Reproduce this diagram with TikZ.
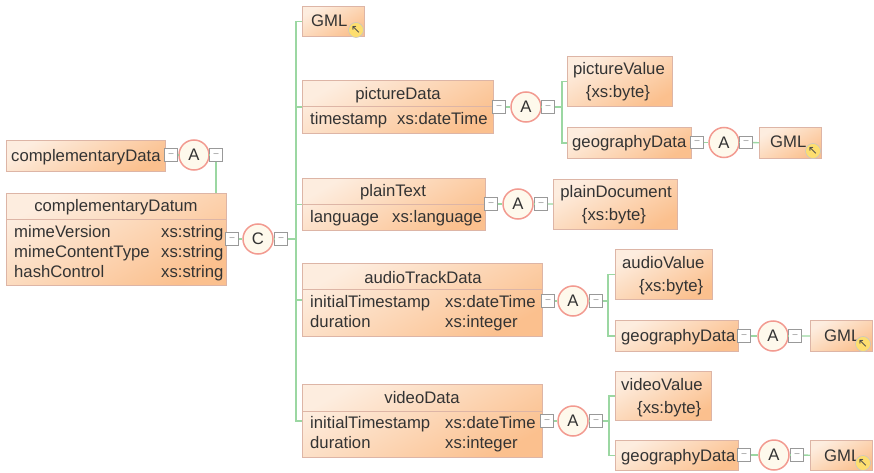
\documentclass[tikz,border=0pt]{standalone}
\usepackage{fontspec}
\setmainfont{Liberation Sans}
\newfontfamily\symbolfont{DejaVu Sans}
\usetikzlibrary{positioning}
\definecolor{boxline}{HTML}{DDB5A6}
\definecolor{boxpale}{HTML}{FDEDDF}
\definecolor{boxdeep}{HTML}{FBC08E}
\definecolor{linkgreen}{HTML}{9BD7A2}
\definecolor{ringred}{HTML}{F29A90}
\definecolor{ringfill}{HTML}{FEF9EC}
\definecolor{inkgrey}{HTML}{333333}
\tikzset{
    xnode/.style={draw=boxline, line width=1.2pt, top color=boxpale, bottom color=boxdeep, shading angle=30, anchor=north west, inner sep=0pt},
    xtext/.style={text=inkgrey, font=\fontsize{16.7}{23}\selectfont, inner sep=0pt, anchor=base west},
    xtitle/.style={xtext, anchor=base},
    xsplit/.style={draw=boxline, line width=1pt},
    xminus/.style={draw=gray!80, line width=1.1pt, fill=white, minimum size=12.5pt, inner sep=0pt, text=gray, font=\fontsize{9}{9}\selectfont},
    xcircle/.style={circle, draw=ringred, line width=1.5pt, fill=ringfill, minimum size=30pt, inner sep=0pt, text=inkgrey, font=\fontsize{16.7}{16.7}\selectfont},
    xbadge/.style={circle, draw=gray!45, line width=.6pt, fill=yellow!60!orange!55, minimum size=15pt, inner sep=0pt, text=gray!60!black, font=\symbolfont\fontsize{12}{12}\selectfont},
    xlink/.style={draw=linkgreen, line width=1.3pt},
}
\begin{document}
\begin{tikzpicture}[x=1pt, y=-1pt]
    \useasboundingbox (0,0) rectangle (874,473);

    % root
    \node[xnode, minimum width=159pt, minimum height=31pt] (complementaryData) at (6,140) {};
    \node[xtext] (complementaryDataText) at (11,161) {complementaryData};
    \node[xminus] (m1) at (171,155) {--};
    \node[xcircle] (a1) at (194,155) {A};
    \node[xminus] (m2) at (216,155) {--};

    \node[xnode, minimum width=220pt, minimum height=92pt] (complementaryDatum) at (6,193) {};
    \draw[xsplit] (complementaryDatum.west |- 0,219) -- (complementaryDatum.east |- 0,219);
    \node[xtitle] (datumTitle) at (116,211) {complementaryDatum};
    \node[xtext] (mimeVersion) at (14,237) {mimeVersion};
    \node[xtext] (mimeVersionType) at (161,237) {xs:string};
    \node[xtext] (mimeContentType) at (14,257) {mimeContentType};
    \node[xtext] (mimeContentTypeType) at (161,257) {xs:string};
    \node[xtext] (hashControl) at (14,277) {hashControl};
    \node[xtext] (hashControlType) at (161,277) {xs:string};
    \node[xminus] (m3) at (232,239) {--};
    \node[xcircle] (c1) at (258,239) {C};
    \node[xminus] (m4) at (281,239) {--};
    \coordinate (trunkRoot) at (296,239);

    % GML on top
    \node[xnode, minimum width=62pt, minimum height=30pt] (gmlTop) at (302,6) {};
    \node[xtext] (gmlTopText) at (311,27) {GML};
    \node[xbadge] (gmlTopBadge) at (356,30) {↖};

    % pictureData
    \node[xnode, minimum width=191pt, minimum height=53pt] (pictureData) at (302,80) {};
    \draw[xsplit] (pictureData.west |- 0,107) -- (pictureData.east |- 0,107);
    \node[xtitle] (pictureDataTitle) at (398,100) {pictureData};
    \node[xtext] (timestamp) at (310,125) {timestamp};
    \node[xtext] (timestampType) at (397,125) {xs:dateTime};
    \node[xminus] (m5) at (499,107) {--};
    \node[xcircle] (a2) at (526,107) {A};
    \node[xminus] (m6) at (548,107) {--};
    \coordinate (trunkPicture) at (562,107);
    \node[xnode, minimum width=105pt, minimum height=50pt] (pictureValue) at (567,56) {};
    \node[xtitle] (pictureValueText) at (619,75) {pictureValue};
    \node[xtitle] (pictureValueType) at (618,98) {\{xs:byte\}};
    \node[xnode, minimum width=124pt, minimum height=31pt] (geoPicture) at (567,127) {};
    \node[xtext] (geoPictureText) at (572,148) {geographyData};
    \node[xminus] (m7) at (697,142.5) {--};
    \node[xcircle] (a3) at (724,142.5) {A};
    \node[xminus] (m8) at (746,142.5) {--};
    \node[xnode, minimum width=62pt, minimum height=31pt] (gmlPicture) at (759,127) {};
    \node[xtext] (gmlPictureText) at (770,148) {GML};
    \node[xbadge] (gmlPictureBadge) at (813,151) {↖};

    % plainText
    \node[xnode, minimum width=183pt, minimum height=52pt] (plainText) at (302,178) {};
    \draw[xsplit] (plainText.west |- 0,204) -- (plainText.east |- 0,204);
    \node[xtitle] (plainTextTitle) at (393,196) {plainText};
    \node[xtext] (language) at (310,222) {language};
    \node[xtext] (languageType) at (392,222) {xs:language};
    \node[xminus] (m9) at (491,204) {--};
    \node[xcircle] (a4) at (518,204) {A};
    \node[xminus] (m10) at (541,204) {--};
    \node[xnode, minimum width=124pt, minimum height=50pt] (plainDocument) at (553,179) {};
    \node[xtitle] (plainDocumentText) at (616,197) {plainDocument};
    \node[xtitle] (plainDocumentType) at (614,220) {\{xs:byte\}};

    % audioTrackData
    \node[xnode, minimum width=240pt, minimum height=73pt] (audioTrackData) at (302,263) {};
    \draw[xsplit] (audioTrackData.west |- 0,289) -- (audioTrackData.east |- 0,289);
    \node[xtitle] (audioTrackDataTitle) at (423,283) {audioTrackData};
    \node[xtext] (audioStamp) at (310,307) {initialTimestamp};
    \node[xtext] (audioStampType) at (445,307) {xs:dateTime};
    \node[xtext] (audioDuration) at (310,327) {duration};
    \node[xtext] (audioDurationType) at (445,327) {xs:integer};
    \node[xminus] (m11) at (548,301) {--};
    \node[xcircle] (a5) at (573,301) {A};
    \node[xminus] (m12) at (596,301) {--};
    \coordinate (trunkAudio) at (608,301);
    \node[xnode, minimum width=97pt, minimum height=50pt] (audioValue) at (615,249) {};
    \node[xtext] (audioValueText) at (622,268) {audioValue};
    \node[xtext] (audioValueType) at (639,291) {\{xs:byte\}};
    \node[xnode, minimum width=123pt, minimum height=31pt] (geoAudio) at (615,320) {};
    \node[xtext] (geoAudioText) at (621,341) {geographyData};
    \node[xminus] (m13) at (744,336) {--};
    \node[xcircle] (a6) at (773,336) {A};
    \node[xminus] (m14) at (795,336) {--};
    \node[xnode, minimum width=62pt, minimum height=31pt] (gmlAudio) at (810,320) {};
    \node[xtext] (gmlAudioText) at (824,341) {GML};
    \node[xbadge] (gmlAudioBadge) at (863,344) {↖};

    % videoData
    \node[xnode, minimum width=240pt, minimum height=73pt] (videoData) at (302,384) {};
    \draw[xsplit] (videoData.west |- 0,411) -- (videoData.east |- 0,411);
    \node[xtitle] (videoDataTitle) at (422,403) {videoData};
    \node[xtext] (videoStamp) at (310,428) {initialTimestamp};
    \node[xtext] (videoStampType) at (445,428) {xs:dateTime};
    \node[xtext] (videoDuration) at (310,448) {duration};
    \node[xtext] (videoDurationType) at (445,448) {xs:integer};
    \node[xminus] (m15) at (547,421) {--};
    \node[xcircle] (a7) at (573,421) {A};
    \node[xminus] (m16) at (596,421) {--};
    \coordinate (trunkVideo) at (609,421);
    \node[xnode, minimum width=96pt, minimum height=49pt] (videoValue) at (615,371) {};
    \node[xtext] (videoValueText) at (621,390) {videoValue};
    \node[xtext] (videoValueType) at (637,413) {\{xs:byte\}};
    \node[xnode, minimum width=123pt, minimum height=30pt] (geoVideo) at (615,440) {};
    \node[xtext] (geoVideoText) at (621,461) {geographyData};
    \node[xminus] (m17) at (744,455) {--};
    \node[xcircle] (a8) at (774,455) {A};
    \node[xminus] (m18) at (797,455) {--};
    \node[xnode, minimum width=62pt, minimum height=30pt] (gmlVideo) at (810,440) {};
    \node[xtext] (gmlVideoText) at (824,461) {GML};
    \node[xbadge] (gmlVideoBadge) at (863,463) {↖};

    % links
    \draw[xlink] (m1) -- (a1);
    \draw[xlink] (a1) -- (m2);
    \draw[xlink] (m2) -- (m2 |- complementaryDatum.north);
    \draw[xlink] (m3) -- (c1);
    \draw[xlink] (c1) -- (m4);
    \draw[xlink] (m4) -- (trunkRoot);
    \draw[xlink] (trunkRoot) |- (gmlTop.west);
    \draw[xlink] (trunkRoot) |- (pictureData.west);
    \draw[xlink] (trunkRoot) |- (plainText.west);
    \draw[xlink] (trunkRoot) |- (audioTrackData.west);
    \draw[xlink] (trunkRoot) |- (videoData.west);
    \foreach \from/\to in {m5/a2, a2/m6, m6/trunkPicture, m7/a3, a3/m8, m8/gmlPicture, m9/a4, a4/m10, m10/plainDocument, m11/a5, a5/m12, m12/trunkAudio, m13/a6, a6/m14, m14/gmlAudio, m15/a7, a7/m16, m16/trunkVideo, m17/a8, a8/m18, m18/gmlVideo}
        \draw[xlink] (\from) -- (\to);
    \draw[xlink] (trunkPicture) |- (pictureValue.west);
    \draw[xlink] (trunkPicture) |- (geoPicture.west);
    \draw[xlink] (trunkAudio) |- (audioValue.west);
    \draw[xlink] (trunkAudio) |- (geoAudio.west);
    \draw[xlink] (trunkVideo) |- (videoValue.west);
    \draw[xlink] (trunkVideo) |- (geoVideo.west);
\end{tikzpicture}
\end{document}
